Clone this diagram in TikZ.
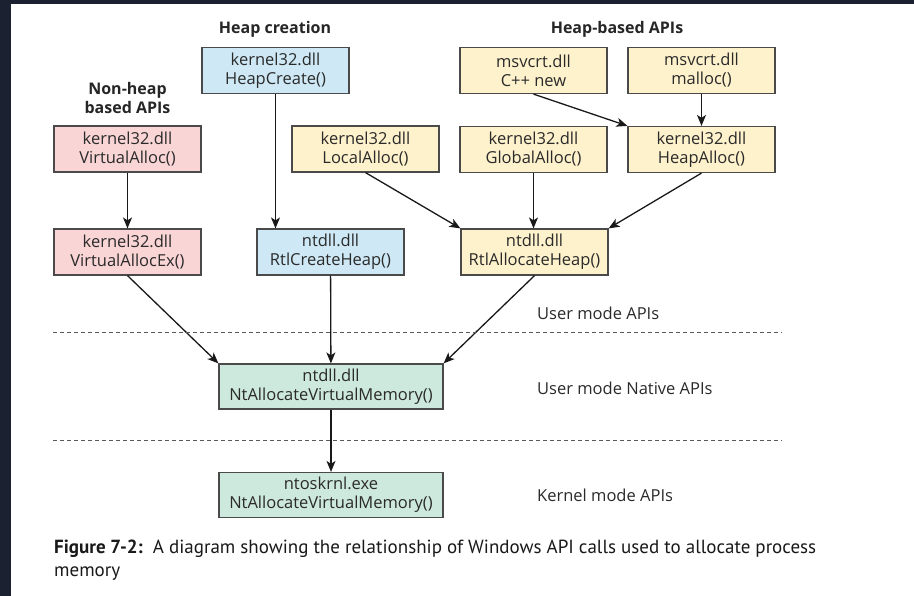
\documentclass[tikz,border=0pt]{standalone}
\usepackage{fontspec}
\setmainfont{Open Sans}
\newfontfamily\capfont{PT Sans}
\usepackage{tikz}
\usetikzlibrary{arrows.meta}

\definecolor{pagedark}{HTML}{1B2130}
\definecolor{boxline}{HTML}{4A4A4A}
\definecolor{txtgray}{HTML}{2A2A2A}
\definecolor{nonheapfill}{HTML}{FAD5D6}
\definecolor{createfill}{HTML}{CEE9F5}
\definecolor{heapfill}{HTML}{FEF2CC}
\definecolor{nativefill}{HTML}{CDE8DD}

\begin{document}
\begin{tikzpicture}[x=1pt, y=-1pt,
	api/.style={draw=boxline, line width=1.2pt, minimum width=147pt, minimum height=46pt, inner sep=0pt, align=center, text=txtgray, font=\fontsize{16.5}{19}\selectfont},
	native/.style={api, fill=nativefill, minimum width=224pt, minimum height=45pt},
	grouphead/.style={text=black!85, font=\bfseries\fontsize{16}{19}\selectfont, align=center, inner sep=0pt},
	levelname/.style={anchor=west, inner sep=0pt, text=txtgray, font=\fontsize{16.5}{19}\selectfont},
	call/.style={draw=black!90, line width=1.3pt, -{Stealth[length=11pt, width=9pt, inset=3pt]}},
	modeline/.style={draw=black!65, line width=0.9pt, dash pattern=on 4pt off 3pt}]

	% Page and frame:
	\fill[pagedark] (0,0) rectangle (914,596);
	\fill[white] (11,4) rectangle (914,596);

	% Group headings:
	\node[grouphead] (hcreate) at (275,29) {Heap creation};
	\node[grouphead] (hbased) at (617,29) {Heap-based APIs};
	\node[grouphead] (nonheap) at (127.5,98) {Non-heap\\based APIs};

	% API boxes:
	\node[api, fill=createfill] (HeapCreate) at (275.5,70.5) {kernel32.dll\\HeapCreate()};
	\node[api, fill=heapfill] (CppNew) at (533.5,70.5) {msvcrt.dll\\C++ new};
	\node[api, fill=heapfill] (Malloc) at (701.5,70.5) {msvcrt.dll\\malloc()};
	\node[api, fill=nonheapfill] (VirtualAlloc) at (127.5,149) {kernel32.dll\\VirtualAlloc()};
	\node[api, fill=heapfill] (LocalAlloc) at (365.5,149) {kernel32.dll\\LocalAlloc()};
	\node[api, fill=heapfill] (GlobalAlloc) at (533.5,149.5) {kernel32.dll\\GlobalAlloc()};
	\node[api, fill=heapfill] (HeapAlloc) at (701.5,149.5) {kernel32.dll\\HeapAlloc()};
	\node[api, fill=nonheapfill] (VirtualAllocEx) at (127.5,252) {kernel32.dll\\VirtualAllocEx()};
	\node[api, fill=createfill] (RtlCreateHeap) at (330.5,252) {ntdll.dll\\RtlCreateHeap()};
	\node[api, fill=heapfill] (RtlAllocateHeap) at (534.5,252) {ntdll.dll\\RtlAllocateHeap()};
	\node[native] (NtAlloc) at (331,386.5) {ntdll.dll\\NtAllocateVirtualMemory()};
	\node[native] (NtKernel) at (331,495) {ntoskrnl.exe\\NtAllocateVirtualMemory()};

	% Calls:
	\draw[call] (VirtualAlloc) -- (VirtualAllocEx);
	\draw[call] (HeapCreate.south) -- (HeapCreate.south |- RtlCreateHeap.north);
	\draw[call] (CppNew.south) -- (HeapAlloc.north west);
	\draw[call] (Malloc) -- (HeapAlloc);
	\draw[call] (LocalAlloc.south) -- (RtlAllocateHeap.north west);
	\draw[call] (GlobalAlloc.south) -- (GlobalAlloc.south |- RtlAllocateHeap.north);
	\draw[call] (HeapAlloc.south) -- (RtlAllocateHeap.north east);
	\draw[call] (VirtualAllocEx.south) -- (NtAlloc.north west);
	\draw[call] (RtlCreateHeap) -- (NtAlloc);
	\draw[call] (RtlAllocateHeap.south) -- (NtAlloc.north east);
	\draw[call] (NtAlloc) -- (NtKernel);

	% Mode boundaries:
	\coordinate (userL) at (53,332);
	\coordinate (userR) at (782,332);
	\coordinate (kernL) at (53,440);
	\coordinate (kernR) at (782,440);
	\draw[modeline] (userL) -- (userR);
	\draw[modeline] (kernL) -- (kernR);
	\node[levelname] (usermode) at (537,313) {User mode APIs};
	\node[levelname] (nativemode) at (537,388) {User mode Native APIs};
	\node[levelname] (kernelmode) at (537,495) {Kernel mode APIs};

	% Caption:
	\node[anchor=west, align=left, inner sep=0pt, text=black!90, font=\capfont\fontsize{19}{23}\selectfont] (caption) at (54,560.5)
		{\textbf{Figure 7-2:}\ \ A diagram showing the relationship of Windows API calls used to allocate process\\memory};
\end{tikzpicture}
\end{document}
